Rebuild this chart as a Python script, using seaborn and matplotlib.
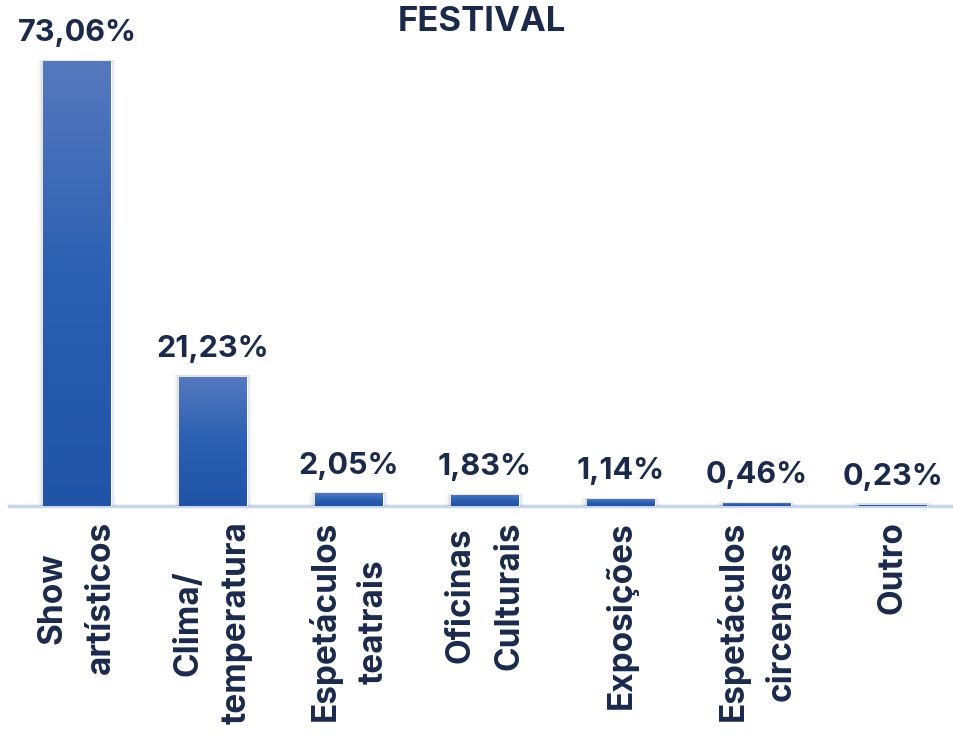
import numpy as np
import pandas as pd
import seaborn as sns
import matplotlib.pyplot as plt
from matplotlib.colors import LinearSegmentedColormap
from matplotlib.patches import Rectangle

categories = ['Show\nartísticos', 'Clima/\ntemperatura', 'Espetáculos\nteatrais',
              'Oficinas\nCulturais', 'Exposições', 'Espetáculos\ncircenses', 'Outro']
values = [73.06, 21.23, 2.05, 1.83, 1.14, 0.46, 0.23]
value_labels = ['73,06%', '21,23%', '2,05%', '1,83%', '1,14%', '0,46%', '0,23%']

navy = '#1b2a4b'
sns.set_style('white')
plt.rcParams['font.family'] = ['Inter', 'DejaVu Sans']

df = pd.DataFrame({'cat': categories, 'val': values})

fig = plt.figure(figsize=(9.54, 7.44), dpi=100)
ax = fig.add_axes([9 / 954, 0.32, 945 / 954, 0.946 - 0.32])
sns.barplot(data=df, x='cat', y='val', color='#2a5bb0', width=0.5, ax=ax)

# gradient fill + soft shadow on each bar
cmap = LinearSegmentedColormap.from_list('grad', ['#2154a6', '#2a5fb2', '#5679bd'])
grad = np.linspace(0, 1, 256).reshape(-1, 1)
for p in ax.patches[:len(values)]:
    x0, w, h = p.get_x(), p.get_width(), p.get_height()
    for k, a in [(0.04, 0.03), (0.025, 0.04), (0.012, 0.05)]:
        sh = Rectangle((x0 - k, 0), w + 2 * k, h + 0.2, color='#000000', alpha=a,
                       zorder=1, lw=0)
        ax.add_patch(sh)
    p.set_zorder(2)
    im = ax.imshow(grad, cmap=cmap, origin='lower', aspect='auto',
                   extent=[x0, x0 + w, 0, h], zorder=3)
    im.set_clip_path(p)

ax.set_xlim(-0.5, 6.45)
ax.set_ylim(0, 76.5)

for i, (v, lab) in enumerate(zip(values, value_labels)):
    ax.annotate(lab, (i, v), xytext=(0, 10), textcoords='offset points',
                ha='center', va='bottom', fontsize=22, fontweight='bold', color=navy)

ax.set_xticks(range(len(categories)))
ax.set_xticklabels(categories, rotation=90, ha='center', va='top',
                   fontsize=24, fontweight='bold', color=navy, linespacing=1.65)
ax.tick_params(axis='x', length=0, pad=11)
ax.set_yticks([])
ax.set_xlabel('')
ax.set_ylabel('')

for s in ['top', 'right', 'left']:
    ax.spines[s].set_visible(False)
ax.spines['bottom'].set_color('#c9d6ef')
ax.spines['bottom'].set_linewidth(2.5)
ax.spines['bottom'].set_zorder(0)

fig.text(482 / 954, 1 - 22 / 744, 'FESTIVAL', ha='center', va='center',
         fontsize=25, fontweight='bold', color=navy)

fig.savefig('out.png', dpi=100)
